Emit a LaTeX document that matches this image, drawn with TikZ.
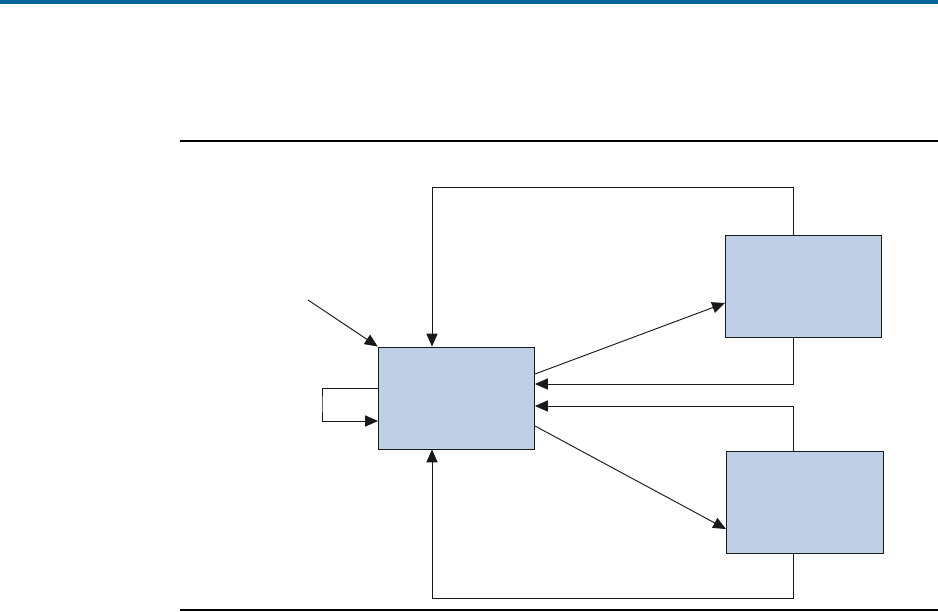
\documentclass[tikz,border=0pt]{standalone}
\usetikzlibrary{arrows.meta, positioning, calc}
\definecolor{boxfill}{RGB}{191,208,230}
\definecolor{barblue}{RGB}{0,101,154}
\begin{document}
\begin{tikzpicture}[x=0.03cm, y=-0.03cm,
        block/.style={rectangle, draw=black!90, fill=boxfill, line width=0.8pt, inner sep=0pt, minimum width=4.7cm, minimum height=3.06cm},
        flow/.style={draw=black!90, line width=0.8pt, -{Triangle[length=11pt, width=9.5pt]}},
        rule/.style={draw=black, line width=0.9pt}]

      \useasboundingbox (0,0) rectangle (938,612);

      % 1. Page header bar and rules
      \fill[barblue] (0,0) rectangle (938,3.5);
      \draw[rule] (180,141) -- (938,141);
      \draw[rule] (180,610) -- (938,610);

      % 2. Blocks
      \node [block] (ctrl) at (456.5,398) {};
      \node [block] (unitA) at (803.5,286) {};
      \node [block] (unitB) at (805,502) {};

      % 3. Helper points
      \coordinate (fb) at (793,0);
      \coordinate (top) at (432,187);
      \coordinate (bot) at (432,598);
      \coordinate (src) at (308,300);
      \coordinate (inA) at (535,384);
      \coordinate (inB) at (535,406);
      \coordinate (outA) at (535,374);
      \coordinate (outB) at (535,426);
      \coordinate (endA) at (725,303);
      \coordinate (endB) at (726,529);
      \coordinate (loopA) at (378,388);
      \coordinate (loopB) at (378,421);

      % 4. Draw Connections
      \draw [flow] (src) -- (ctrl.north west);
      \draw [flow] (unitA.north -| fb) |- (top) -- (top |- ctrl.north);
      \draw [flow] (unitA.south -| fb) |- (inA);
      \draw [flow] (unitB.north -| fb) |- (inB);
      \draw [flow] (unitB.south -| fb) |- (bot) -- (bot |- ctrl.south);
      \draw [flow] (outA) -- (endA);
      \draw [flow] (outB) -- (endB);
      \draw [flow] (loopA) -| (322,404) |- (loopB);
    \end{tikzpicture}
\end{document}
